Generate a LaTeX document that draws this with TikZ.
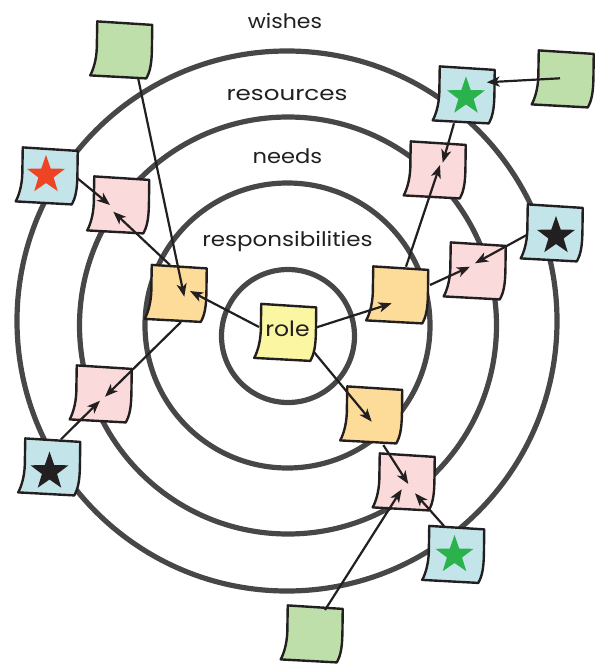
\documentclass[tikz,border=0pt]{standalone}
\usepackage{fontspec}
\setmainfont{Poppins}
\usetikzlibrary{arrows.meta,shapes.geometric,calc}

\definecolor{ringgray}{HTML}{474747}
\definecolor{inkblack}{HTML}{231F20}
\definecolor{notegreen}{HTML}{BEDEAA}
\definecolor{noteblue}{HTML}{C3E5EA}
\definecolor{notepink}{HTML}{FADADA}
\definecolor{noteorange}{HTML}{FDDC99}
\definecolor{noteyellow}{HTML}{FBF6A2}
\definecolor{starred}{HTML}{EE4423}
\definecolor{stargreen}{HTML}{2AB24C}

\tikzset{
  ring/.style={draw=ringgray, line width=5.2pt},
  ringlabel/.style={anchor=base, inner sep=0, text=inkblack, font=\fontsize{20}{24}\selectfont},
  rolelabel/.style={anchor=base, inner sep=0, text=inkblack, font=\fontsize{21}{24}\selectfont},
  notenode/.style={rectangle, minimum width=56pt, minimum height=56pt, inner sep=0},
  starmark/.style={star, star points=5, star point ratio=2.5, minimum size=40pt, inner sep=0, draw=none, fill=#1},
  conn/.style={draw=inkblack, line width=2.2pt, -{Stealth[length=13pt,width=10pt,inset=3.5pt]}},
  pics/paper/.style={code={
    \path[draw=inkblack, line width=2.4pt, line join=round, fill=#1]
      (-24.25,-28.6) -- (30.75,-25.1) -- (30.4,0)
      .. controls (30.1,14) and (28.5,22) .. (24.75,28.4)
      -- (-31.25,25.4)
      .. controls (-28,19) and (-25.2,10) .. (-24.7,-2) -- cycle;
  }},
}
\newcommand\stickynote[3]{\pic at (#2) {paper=#3}; \node[notenode] (#1) at (#2) {};}

\begin{document}
\begin{tikzpicture}[x=1pt,y=-1pt]
\useasboundingbox (0,0) rectangle (602,664);

% rings
\draw[ring] (287,321) circle[radius=270];
\draw[ring] (288,325.5) circle[radius=208.5];
\draw[ring] (287.5,325.5) circle[radius=142.5];
\draw[ring] (288,336) circle[radius=66.5];

% ring labels
\node[ringlabel] (lwishes) at (285,28) {\scalebox{1.1}[1]{wishes}};
\node[ringlabel] (lresources) at (287,100) {\scalebox{1.23}[1]{resources}};
\node[ringlabel] (lneeds) at (287.5,163.3) {\scalebox{1.13}[1]{needs}};
\node[ringlabel] (lresp) at (287.5,246) {\scalebox{1.15}[1]{responsibilities}};

% sticky notes
\stickynote{g1}{121.5,50}{notegreen}
\stickynote{b1}{47,176}{noteblue}
\stickynote{p1}{118.5,205}{notepink}
\stickynote{o1}{176,293.5}{noteorange}
\stickynote{role}{285.5,332.5}{noteyellow}
\stickynote{o2}{397.5,295}{noteorange}
\stickynote{p2}{435,170}{notepink}
\stickynote{b2}{464,95}{noteblue}
\stickynote{g2}{563,79}{notegreen}
\stickynote{b3}{552,233}{noteblue}
\stickynote{p3}{475,271}{notepink}
\stickynote{p4}{101,394}{notepink}
\stickynote{b4}{49.5,467}{noteblue}
\stickynote{g3}{312,634}{notegreen}
\stickynote{o3}{371.5,415}{noteorange}
\stickynote{p5}{404,482}{notepink}
\stickynote{b5}{453.5,554.5}{noteblue}

\node[rolelabel] (roletext) at (287.5,336.7) {\scalebox{1.12}[1]{role}};

% stars
\node[starmark=starred] (s1) at ($(b1)+(-1,-1)$) {};
\node[starmark=stargreen] (s2) at ($(b2)+(2,1.5)$) {};
\node[starmark=inkblack] (s3) at ($(b3)+(4,3)$) {};
\node[starmark=inkblack] (s4) at ($(b4)+(0,4.5)$) {};
\node[starmark=stargreen] (s5) at ($(b5)+(1,0.5)$) {};

% connectors
\draw[conn] ($(g1)+(16.8,29)$) -- ($(o1)+(8.3,3.2)$);
\draw[conn] ($(role)+(-26.5,-5.5)$) -- ($(o1)+(14,-2.5)$);
\draw[conn] ($(o1)+(-6,-28.5)$) -- ($(p1)+(-5.2,6.7)$);
\draw[conn] ($(b1)+(29.7,1.7)$) -- ($(p1)+(-8.5,0)$);
\draw[conn] ($(o1)+(5,28.5)$) -- ($(p4)+(4,2.7)$);
\draw[conn] ($(b4)+(11.5,-27.7)$) -- ($(p4)+(-1,6.7)$);
\draw[conn] ($(role)+(31.2,-5.2)$) -- ($(o2)+(-5.8,8.3)$);
\draw[conn] ($(o2)+(8.5,-28.3)$) -- ($(p2)+(5,-5)$);
\draw[conn] ($(b2)+(-10,28.3)$) -- ($(p2)+(7.7,-7.3)$);
\draw[conn] ($(g2)+(-3,-0.7)$) -- ($(b2)+(22.7,-12.7)$);
\draw[conn] ($(b3)+(-25.3,2)$) -- ($(p3)+(0,-7.7)$);
\draw[conn] ($(o2)+(32.5,-10)$) -- ($(p3)+(-5,-4.3)$);
\draw[conn] ($(role)+(28,19)$) -- ($(o3)+(0.2,6.7)$);
\draw[conn] ($(o3)+(11.8,30)$) -- ($(p5)+(4.3,2)$);
\draw[conn] ($(g3)+(13,-24)$) -- ($(p5)+(-2.3,7.3)$);
\draw[conn] ($(b5)+(-9.5,-28.5)$) -- ($(p5)+(11,11.3)$);
\end{tikzpicture}
\end{document}
